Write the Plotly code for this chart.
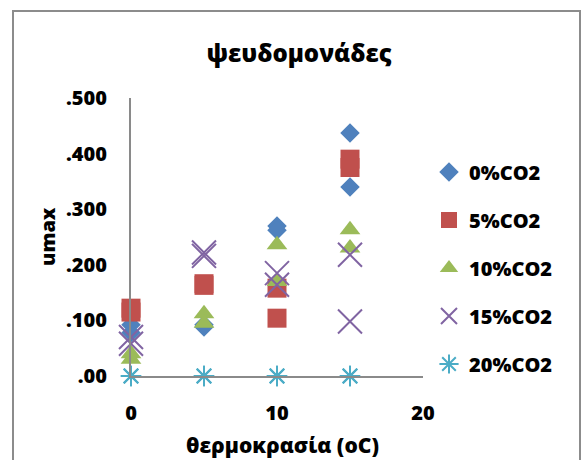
import plotly.graph_objects as go

# Temperature (oC) at which each replicate was measured
temps = [0, 0, 5, 5, 10, 10, 15, 15]

# umax per CO2 level (two replicates per temperature)
umax_0 = [0.092, 0.078, 0.092, 0.088, 0.270, 0.262, 0.437, 0.340]
umax_5 = [0.122, 0.115, 0.166, 0.163, 0.158, 0.104, 0.390, 0.375]
umax_10 = [0.040, 0.030, 0.112, 0.095, 0.236, 0.170, 0.263, 0.230]
umax_15 = [0.070, 0.058, 0.222, 0.216, 0.185, 0.164, 0.218, 0.098]
umax_20 = [0.0, 0.0, 0.0, 0.0, 0.0, 0.0, 0.0, 0.0]

series_names = ["0%CO2", "5%CO2", "10%CO2", "15%CO2", "20%CO2"]
x_ticks = [0, 10, 20]
y_ticks = [0.0, 0.1, 0.2, 0.3, 0.4, 0.5]
y_ticktext = [".00", ".100", ".200", ".300", ".400", ".500"]

W, H = 582, 460
L, R, T, B = 131, 159, 98, 84
pw, ph = W - L - R, H - T - B

def px_x(p):
    return (p - L) / pw

def px_y(p):
    return (H - B - p) / ph

FONT = "Open Sans"
WEIGHT = 800
styles = [
    dict(symbol="diamond", size=15, color="#4F81BD"),
    dict(symbol="square", size=19, color="#C0504D"),
    dict(symbol="triangle-up", size=18, color="#9BBB59"),
    dict(symbol="x-thin-open", size=24, color="#8064A2", line=dict(width=2, color="#8064A2")),
    dict(symbol="asterisk-open", size=17, color="#4BACC6", line=dict(width=2, color="#4BACC6")),
]

fig = go.Figure()
for name, ys, st in zip(series_names, [umax_0, umax_5, umax_10, umax_15, umax_20], styles):
    fig.add_trace(go.Scatter(
        x=temps, y=ys, name=name, mode="markers", marker=st,
        cliponaxis=False, legendgroup=name,
    ))

axis_line = dict(showline=True, linecolor="#8a8a8a", linewidth=2, showgrid=False,
                 zeroline=False, ticks="", fixedrange=True)

def f(size):
    return dict(family=FONT, size=size, color="black", weight=WEIGHT)

fig.update_layout(
    width=W, height=H,
    margin=dict(l=L, r=R, t=T, b=B, autoexpand=False),
    paper_bgcolor="white", plot_bgcolor="white",
    font=f(19),
    title=dict(text="ψευδομονάδες", x=px_x(299), xref="paper", xanchor="center",
               y=1 - 54 / H, yref="container", yanchor="middle", font=f(24)),
    xaxis=dict(range=[0, 20], tickvals=x_ticks, ticktext=[str(v) for v in x_ticks],
               ticklabelstandoff=18, tickfont=f(20), **axis_line),
    yaxis=dict(range=[0, 0.5], tickvals=y_ticks, ticktext=y_ticktext,
               ticklabelstandoff=18, tickfont=f(20), **axis_line),
    legend=dict(x=px_x(429), xanchor="left", y=px_y(268), yanchor="middle",
                font=f(20), tracegroupgap=19, itemwidth=30, bgcolor="rgba(0,0,0,0)"),
    showlegend=True,
    annotations=[
        dict(text="θερμοκρασία (oC)", x=px_x(282), y=px_y(445), xref="paper", yref="paper",
             showarrow=False, xanchor="center", yanchor="middle", font=f(21)),
        dict(text="umax", x=px_x(47), y=px_y(237), xref="paper", yref="paper",
             showarrow=False, xanchor="center", yanchor="middle", textangle=-90, font=f(20)),
    ],
    shapes=[
        dict(type="rect", xref="paper", yref="paper",
             x0=px_x(13), x1=px_x(580), y0=px_y(470), y1=px_y(11),
             line=dict(color="#8c8c8c", width=2), fillcolor="rgba(0,0,0,0)", layer="below"),
    ],
)

fig.write_html("out.html")
